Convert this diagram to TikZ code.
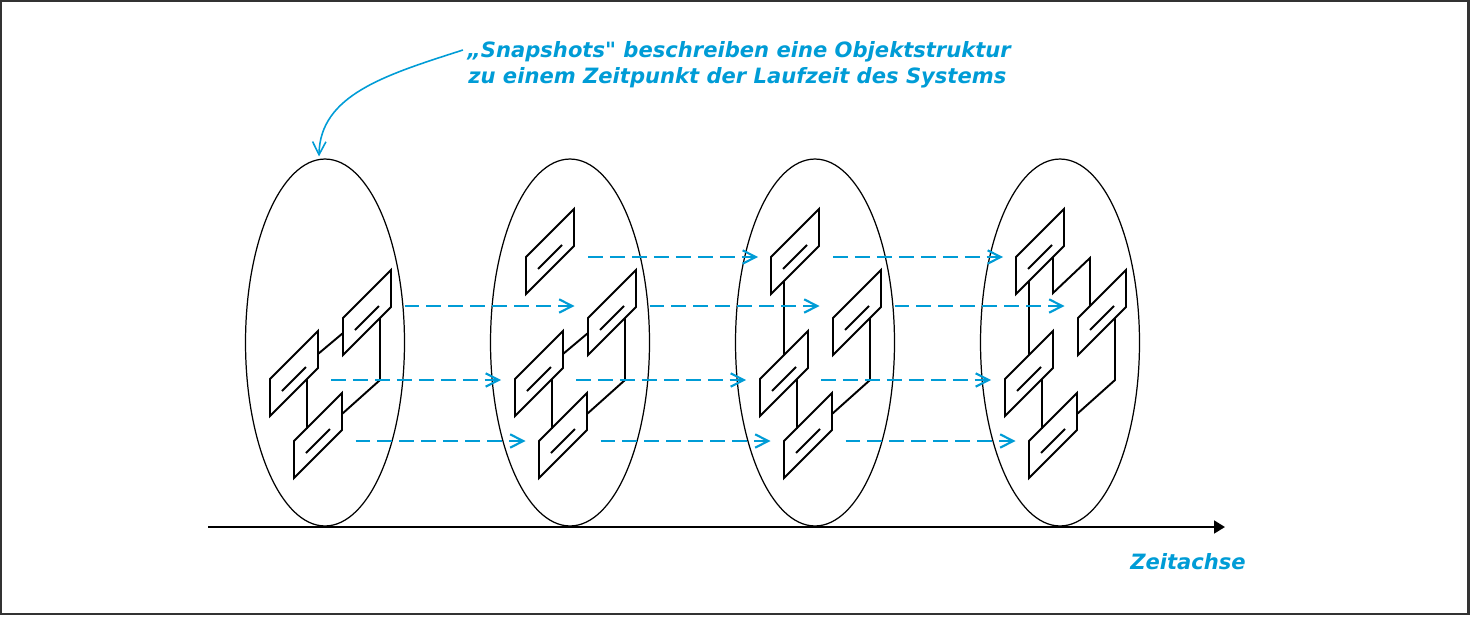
\documentclass[tikz,border=0pt]{standalone}
\usepackage{fontspec}
\newfontfamily\notefont{DejaVu Sans}[BoldItalicFont={DejaVu Sans Bold Oblique}]
\usepackage{xcolor}
\definecolor{snapblue}{RGB}{0,156,214}
\definecolor{framegray}{RGB}{51,51,51}
\usepackage{tikz}
\usetikzlibrary{arrows.meta, positioning, shapes.geometric}

\begin{document}
\begin{tikzpicture}[x=0.02cm, y=-0.02cm,
  snap/.style={draw, ellipse, line width=0.7pt, inner sep=0pt, minimum width=3.18cm, minimum height=7.34cm},
  obj/.style={line width=1.1pt},
  move/.style={snapblue, line width=1.2pt, dash pattern=on 8.5pt off 4pt, -{Straight Barb[length=7.4pt, width=7.6pt]}},
  bluetext/.style={font=\notefont\bfseries\itshape\fontsize{12}{14}\selectfont, text=snapblue, inner sep=0pt}]
  \useasboundingbox (0,0) rectangle (1470,616);
  % Frame
  \draw[line width=1.4pt, framegray] (1.2,1.2) rectangle (1468.3,613.8);

  % Snapshots
  \node[snap] (snap1) at (325,342.5) {};
  \node[snap] (snap2) at (570,342.5) {};
  \node[snap] (snap3) at (815,342.5) {};
  \node[snap] (snap4) at (1060,342.5) {};

  % Time axis
  \coordinate (t0) at (208,527);
  \coordinate (t1) at (1225,527);
  \draw[line width=1.4pt, -{Triangle[length=6.2pt, width=7.2pt]}] (t0) -- (t1);
  \node[bluetext] (axislabel) at (1188,562) {Zeitachse};

  % Annotation
  \node[bluetext, anchor=base west] (note) at (467,57) {„Snapshots" beschreiben eine Objektstruktur};
  \node[bluetext, anchor=base west] (note2) at (468,83) {zu einem Zeitpunkt der Laufzeit des Systems};
  \draw[snapblue, line width=0.9pt, -{Straight Barb[length=7.4pt, width=7.6pt]}] ([shift={(-4,-7)}]note.base west) .. controls (385,75) and (320,95) .. ([shift={(-6,-2)}]snap1.north);

  % --- Snapshot 1 ---
  \draw[obj] (270,416) -- ++(0,-37) -- ++(48,-48) -- ++(0,37) -- cycle;
  \draw[obj] (282,391) -- ++(24,-24);
  \draw[obj] (343,355) -- ++(0,-37) -- ++(48,-48) -- ++(0,37) -- cycle;
  \draw[obj] (355,330) -- ++(24,-24);
  \draw[obj] (294,478) -- ++(0,-37) -- ++(48,-48) -- ++(0,37) -- cycle;
  \draw[obj] (306,453) -- ++(24,-24);
  \draw[obj] (318,354) -- (343,333);
  \draw[obj] (380,318) -- (380,380) -- (342,414);
  \draw[obj] (307,379) -- (307,429);

  % --- Snapshot 2 ---
  \draw[obj] (526,294) -- ++(0,-37) -- ++(48,-48) -- ++(0,37) -- cycle;
  \draw[obj] (538,269) -- ++(24,-24);
  \draw[obj] (515,416) -- ++(0,-37) -- ++(48,-48) -- ++(0,37) -- cycle;
  \draw[obj] (527,391) -- ++(24,-24);
  \draw[obj] (588,355) -- ++(0,-37) -- ++(48,-48) -- ++(0,37) -- cycle;
  \draw[obj] (600,330) -- ++(24,-24);
  \draw[obj] (539,478) -- ++(0,-37) -- ++(48,-48) -- ++(0,37) -- cycle;
  \draw[obj] (551,453) -- ++(24,-24);
  \draw[obj] (563,354) -- (588,333);
  \draw[obj] (625,318) -- (625,380) -- (587,414);
  \draw[obj] (552,379) -- (552,429);

  % --- Snapshot 3 ---
  \draw[obj] (771,294) -- ++(0,-37) -- ++(48,-48) -- ++(0,37) -- cycle;
  \draw[obj] (783,269) -- ++(24,-24);
  \draw[obj] (760,416) -- ++(0,-37) -- ++(48,-48) -- ++(0,37) -- cycle;
  \draw[obj] (772,391) -- ++(24,-24);
  \draw[obj] (833,355) -- ++(0,-37) -- ++(48,-48) -- ++(0,37) -- cycle;
  \draw[obj] (845,330) -- ++(24,-24);
  \draw[obj] (784,478) -- ++(0,-37) -- ++(48,-48) -- ++(0,37) -- cycle;
  \draw[obj] (796,453) -- ++(24,-24);
  \draw[obj] (784,281) -- (784,355);
  \draw[obj] (870,318) -- (870,380) -- (832,414);
  \draw[obj] (797,379) -- (797,429);

  % --- Snapshot 4 ---
  \draw[obj] (1016,294) -- ++(0,-37) -- ++(48,-48) -- ++(0,37) -- cycle;
  \draw[obj] (1028,269) -- ++(24,-24);
  \draw[obj] (1005,416) -- ++(0,-37) -- ++(48,-48) -- ++(0,37) -- cycle;
  \draw[obj] (1017,391) -- ++(24,-24);
  \draw[obj] (1078,355) -- ++(0,-37) -- ++(48,-48) -- ++(0,37) -- cycle;
  \draw[obj] (1090,330) -- ++(24,-24);
  \draw[obj] (1029,478) -- ++(0,-37) -- ++(48,-48) -- ++(0,37) -- cycle;
  \draw[obj] (1041,453) -- ++(24,-24);
  \draw[obj] (1029,281) -- (1029,355);
  \draw[obj] (1053,257) -- (1053,293) -- (1090,258) -- (1090,306);
  \draw[obj] (1115,318) -- (1115,380) -- (1077,414);
  \draw[obj] (1042,379) -- (1042,429);

  % Object movement between snapshots
  \draw[move] (588,257) -- (758,257);
  \draw[move] (833,257) -- (1003,257);
  \draw[move] (404.5,306) -- (574.5,306);
  \draw[move] (649.5,306) -- (819.5,306);
  \draw[move] (894.5,306) -- (1064.5,306);
  \draw[move] (331,380) -- (501,380);
  \draw[move] (576,380) -- (746,380);
  \draw[move] (821,380) -- (991,380);
  \draw[move] (355.5,441) -- (525.5,441);
  \draw[move] (600.5,441) -- (770.5,441);
  \draw[move] (845.5,441) -- (1015.5,441);
\end{tikzpicture}
\end{document}
